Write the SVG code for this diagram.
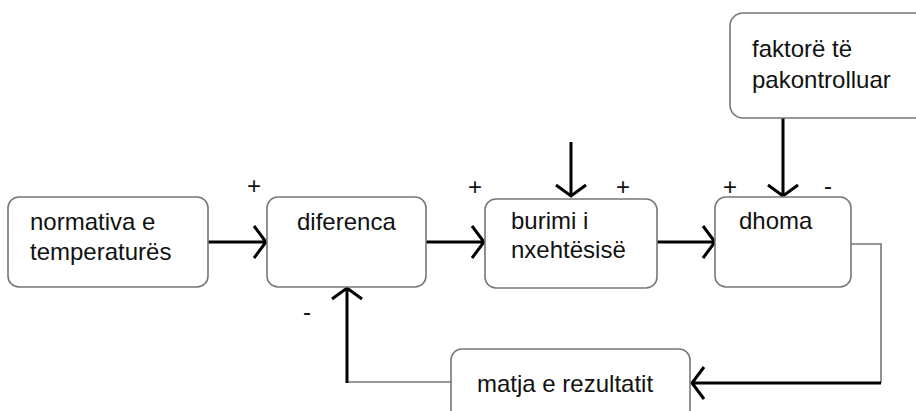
<svg xmlns="http://www.w3.org/2000/svg" width="916" height="411" viewBox="0 0 916 411">
<style>
.box{fill:#fff;stroke:#777;stroke-width:1.6}
.t{font-family:"Liberation Sans",Arial,sans-serif;font-size:24px;fill:#111}
.s{font-family:"Liberation Sans",Arial,sans-serif;font-size:24px;fill:#111;text-anchor:middle}
.thick{fill:none;stroke:#000;stroke-width:3}
.thin{fill:none;stroke:#777;stroke-width:1.6}
</style>
<rect width="916" height="411" fill="#fff"/>
<g id="connectors">
<path class="thick" d="M208 242H266M254 226L266 242L254 258"/>
<path class="thick" d="M426 242H484M472 226L484 242L472 258"/>
<path class="thick" d="M657 242H715M703 226L715 242L703 258"/>
<path class="thick" d="M571 142V196M556 185L571 196L586 185"/>
<path class="thick" d="M783 118V196M768 185L783 196L798 185"/>
<path class="thin" d="M851 244H881V383"/>
<path class="thick" d="M881 383H692M704 367L692 383L704 399"/>
<path class="thin" d="M451 382H347"/>
<path class="thick" d="M347 383V288M332 299L347 288L362 299"/>
</g>
<g id="normativa"><rect class="box" x="8" y="197" width="200" height="90" rx="11"/><text class="t" x="30" y="230">normativa e</text><text class="t" x="30" y="260">temperaturës</text></g>
<g id="diferenca"><rect class="box" x="267" y="197" width="159" height="90" rx="11"/><text class="t" x="297" y="230">diferenca</text></g>
<g id="burimi"><rect class="box" x="485" y="199" width="172" height="89" rx="11"/><text class="t" x="511" y="229">burimi i</text><text class="t" x="511" y="258">nxehtësisë</text></g>
<g id="dhoma"><rect class="box" x="715" y="197" width="136" height="90" rx="11"/><text class="t" x="739" y="229">dhoma</text></g>
<g id="faktore"><rect class="box" x="730" y="13" width="220" height="105" rx="13"/><text class="t" x="752" y="57">faktorë të</text><text class="t" x="752" y="88">pakontrolluar</text></g>
<g id="matja"><rect class="box" x="451" y="349" width="239" height="80" rx="11"/><text class="t" x="477" y="392">matja e rezultatit</text></g>
<g id="signs">
<text class="s" x="254" y="194">+</text>
<text class="s" x="475" y="195">+</text>
<text class="s" x="623" y="195">+</text>
<text class="s" x="730" y="195">+</text>
<text class="s" x="828" y="194">-</text>
<text class="s" x="307" y="320">-</text>
</g>
</svg>
